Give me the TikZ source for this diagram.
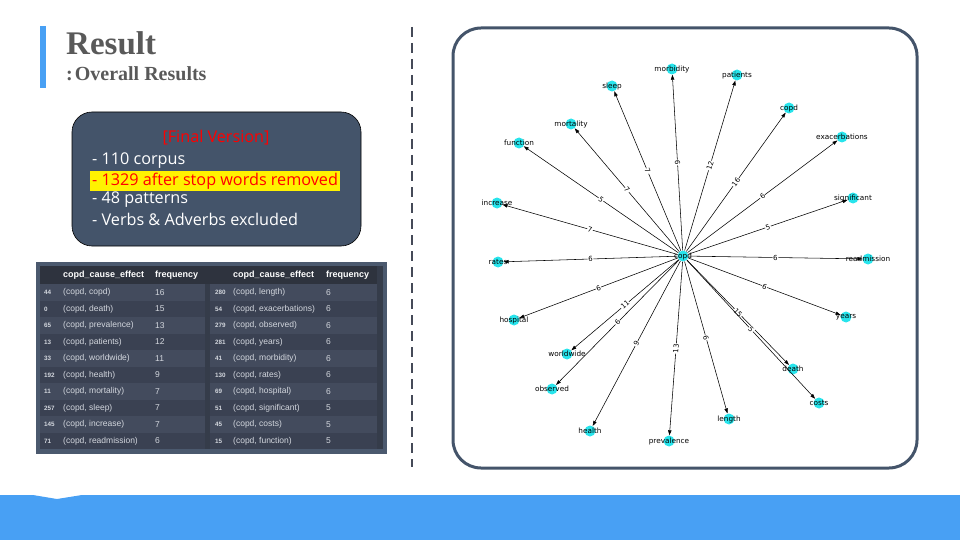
\documentclass[tikz,border=0pt]{standalone}
\usepackage{fontspec}
\usepackage{xcolor}
\usetikzlibrary{arrows.meta,positioning,calc}
\newfontfamily\titlefont{Liberation Serif}
\newfontfamily\boxfont{Open Sans}
\newfontfamily\tabfont{Liberation Sans}
\newfontfamily\graphfont{DejaVu Sans}
\definecolor{slate}{HTML}{44546A}
\definecolor{skyblue}{HTML}{48A0F4}
\definecolor{titlegray}{HTML}{595959}
\definecolor{nodecyan}{RGB}{40,228,236}
\definecolor{tabframe}{HTML}{4B596E}
\definecolor{tabbase}{HTML}{353C4A}
\definecolor{tabhead}{HTML}{2E333E}
\definecolor{rowlight}{HTML}{434B5D}
\definecolor{rowdark}{HTML}{3A4152}
\definecolor{tabtext}{HTML}{D3D7DE}
\definecolor{dashgray}{HTML}{454A58}

\begin{document}
\begin{tikzpicture}[x=1pt, y=-1pt,
  gnode/.style={circle, fill=nodecyan, minimum size=11pt, inner sep=0pt},
  glab/.style={font=\graphfont\fontsize{7.3}{8}\selectfont, inner sep=0pt},
  arr/.style={-{Triangle[length=5pt,width=3.4pt]}, line width=0.55pt},
  wlab/.style={font=\graphfont\fontsize{7}{7}\selectfont, fill=white, inner sep=0.6pt, sloped},
  boxtxt/.style={font=\boxfont\fontsize{16.2}{19}\selectfont, text=white, inner sep=0pt},
  hcell/.style={font=\tabfont\bfseries\fontsize{9}{10}\selectfont, text=white, anchor=west, inner sep=0pt},
  icell/.style={font=\tabfont\bfseries\fontsize{6.3}{7}\selectfont, text=tabtext, anchor=west, inner sep=0pt},
  cell/.style={font=\tabfont\fontsize{8.5}{9}\selectfont, text=tabtext, anchor=west, inner sep=0pt},
  dashline/.style={dashgray, line width=2pt, dash pattern=on 10pt off 6pt},
]
\useasboundingbox (0,0) rectangle (960,540);

% title
\fill[skyblue] (40,26) rectangle (46,88);
\node[font=\titlefont\bfseries\fontsize{33}{36}\selectfont, text=titlegray, anchor=base west, inner sep=0pt] (title) at (66,55) {Result};
\node[font=\titlefont\bfseries\fontsize{20}{22}\selectfont, text=titlegray, anchor=base west, inner sep=0pt] (subtitle) at (66,81) {:\kern2pt Overall Results};

% summary box
\node[draw=black, line width=0.6pt, fill=slate, rounded corners=20pt, minimum width=289pt, minimum height=134pt] (info) at (216.5,179) {};
\node[boxtxt, text=red] (final) at (216,138) {[Final Version]};
\node[boxtxt, anchor=west] (corpus) at (92,161) {- 110 corpus};
\node[boxtxt, anchor=west, fill=yellow, text=red, inner xsep=2pt, inner ysep=1.5pt] (stop) at (90,181) {- 1329 after stop words removed};
\node[boxtxt, anchor=west] (pat) at (92,200) {- 48 patterns};
\node[boxtxt, anchor=west] (verbs) at (92,219) {- Verbs \& Adverbs excluded};

% table
\fill[tabframe] (36,262) rectangle (387,454);
\fill[tabbase] (40,266) rectangle (383,449);
\fill[tabhead] (40,266) rectangle (377,284);
\node[hcell] (hl1) at (63,275) {copd\_cause\_effect};
\node[hcell] (hl2) at (155,275) {frequency};
\node[hcell] (hr1) at (233,275) {copd\_cause\_effect};
\node[hcell] (hr2) at (326,275) {frequency};
\foreach \i/\la/\lb/\lc/\ra/\rb/\rc in {
  1/44/copd/16/280/length/6, 2/0/death/15/54/exacerbations/6,
  3/65/prevalence/13/279/observed/6, 4/13/patients/12/281/years/6,
  5/33/worldwide/11/41/morbidity/6, 6/192/health/9/130/rates/6,
  7/11/mortality/7/69/hospital/6, 8/257/sleep/7/51/significant/5,
  9/145/increase/7/45/costs/5, 10/71/readmission/6/15/function/5} {
  \ifodd\i\relax \def\rowcol{rowlight}\else \def\rowcol{rowdark}\fi
  \fill[\rowcol] (40,{267.5+16.5*\i}) rectangle (205,{284+16.5*\i});
  \fill[\rowcol] (210,{267.5+16.5*\i}) rectangle (377,{284+16.5*\i});
  \node[icell] (li\i) at (44,{276+16.5*\i}) {\la};
  \node[cell]  (lp\i) at (63,{276+16.5*\i}) {(copd, \lb)};
  \node[cell]  (lf\i) at (155,{276+16.5*\i}) {\lc};
  \node[icell] (ri\i) at (215,{276+16.5*\i}) {\ra};
  \node[cell]  (rp\i) at (233,{276+16.5*\i}) {(copd, \rb)};
  \node[cell]  (rf\i) at (326,{276+16.5*\i}) {\rc};
}

% divider
\draw[dashline] (412,27) -- (412,467);

% graph panel
\draw[slate, line width=3pt, rounded corners=28pt] (453,28) rectangle (917,468);

\node[gnode, label={[glab]center:copd}] (copd) at (683,256) {};
\node[gnode, label={[glab]center:morbidity}] (morb) at (672,69) {};
\node[gnode, label={[glab]center:sleep}] (sleep) at (612,86) {};
\node[gnode, label={[glab]center:mortality}] (mort) at (571,124) {};
\node[gnode, label={[glab]center:function}] (func) at (519,143) {};
\node[gnode, label={[glab]center:increase}] (incr) at (497,203) {};
\node[gnode, label={[glab]center:patients}] (pati) at (737,75) {};
\node[gnode, label={[glab]center:copd}] (copdb) at (789,108) {};
\node[gnode, label={[glab]center:exacerbations}] (exac) at (842,137) {};
\node[gnode, label={[glab]center:significant}] (sig) at (853,198) {};
\node[gnode, label={[glab]center:readmission}] (readm) at (868,259) {};
\node[gnode, label={[glab]center:years}] (years) at (846,317) {};
\node[gnode, label={[glab]center:death}] (death) at (793,369) {};
\node[gnode, label={[glab]center:costs}] (costs) at (819,403) {};
\node[gnode, label={[glab]center:length}] (length) at (729,419) {};
\node[gnode, label={[glab]center:prevalence}] (prev) at (669,441) {};
\node[gnode, label={[glab]center:health}] (health) at (590,431) {};
\node[gnode, label={[glab]center:observed}] (obs) at (552,389) {};
\node[gnode, label={[glab]center:worldwide}] (world) at (567,354) {};
\node[gnode, label={[glab]center:hospital}] (hosp) at (514,320) {};
\node[gnode, label={[glab]center:rates}] (rates) at (498,262) {};

\draw[arr] (copd) -- node[wlab] {6} (morb);
\draw[arr] (copd) -- node[wlab] {7} (sleep);
\draw[arr] (copd) -- node[wlab] {7} (mort);
\draw[arr] (copd) -- node[wlab] {5} (func);
\draw[arr] (copd) -- node[wlab] {7} (incr);
\draw[arr] (copd) -- node[wlab] {12} (pati);
\draw[arr] (copd) -- node[wlab] {16} (copdb);
\draw[arr] (copd) -- node[wlab] {6} (exac);
\draw[arr] (copd) -- node[wlab] {5} (sig);
\draw[arr] (copd) -- node[wlab] {6} (readm);
\draw[arr] (copd) -- node[wlab] {6} (years);
\draw[arr] (copd) -- node[wlab] {15} (death);
\draw[arr] (copd) -- node[wlab] {5} (costs);
\draw[arr] (copd) -- node[wlab] {6} (length);
\draw[arr] (copd) -- node[wlab] {13} (prev);
\draw[arr] (copd) -- node[wlab] {9} (health);
\draw[arr] (copd) -- node[wlab] {6} (obs);
\draw[arr] (copd) -- node[wlab] {11} (world);
\draw[arr] (copd) -- node[wlab] {6} (hosp);
\draw[arr] (copd) -- node[wlab] {6} (rates);

% bottom band
\fill[skyblue] (0,495) -- (33,495) -- (57,499) -- (82,495) -- (960,495) -- (960,540) -- (0,540) -- cycle;
\end{tikzpicture}
\end{document}
